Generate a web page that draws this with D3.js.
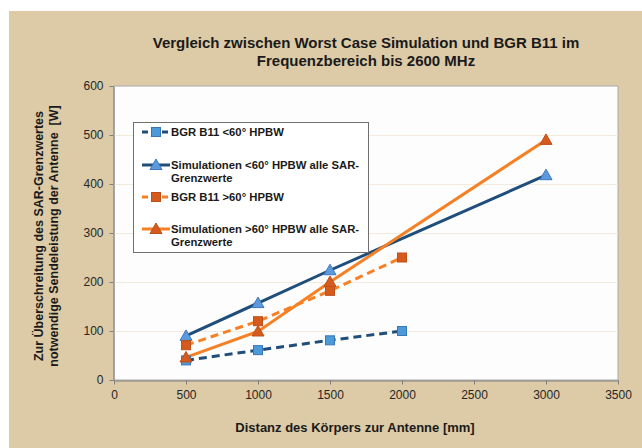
<!DOCTYPE html>
<html><head><meta charset="utf-8">
<script src="https://cdn.jsdelivr.net/npm/d3@7"></script>
<style>body{margin:0;background:#fff}svg{display:block}text{font-family:"Liberation Sans",Arial,sans-serif;white-space:pre}</style>
</head><body><svg id="c" width="642" height="448"></svg>
<script>
const titleLines = ["Vergleich zwischen Worst Case Simulation und BGR B11 im", "Frequenzbereich bis 2600 MHz"];
const xLabel = "Distanz des Körpers zur Antenne [mm]";
const yLabelLines = ["Zur Überschreitung des SAR-Grenzwertes", "notwendige Sendeleistung der Antenne  [W]"];
const xTicks = [0, 500, 1000, 1500, 2000, 2500, 3000, 3500];
const yTicks = [0, 100, 200, 300, 400, 500, 600];
const seriesNames = [["BGR B11 <60° HPBW"], ["Simulationen <60° HPBW alle SAR-", "Grenzwerte"], ["BGR B11 >60° HPBW"], ["Simulationen >60° HPBW alle SAR-", "Grenzwerte"]];
const bgrLowX = [500, 1000, 1500, 2000];
const bgrLowY = [40, 61, 81, 100];
const simLowX = [500, 1000, 1500, 3000];
const simLowY = [90, 157, 224, 418];
const bgrHighX = [500, 1000, 1500, 2000];
const bgrHighY = [71, 120, 182, 250];
const simHighX = [500, 1000, 1500, 3000];
const simHighY = [46, 99, 200, 490];

const series = [
  {name: seriesNames[0], xs: bgrLowX, ys: bgrLowY, line: "#1F4E7A", dash: "8,5", marker: "square", fill: "#4D9AD8", stroke: "#3878B8"},
  {name: seriesNames[1], xs: simLowX, ys: simLowY, line: "#1F4E7A", dash: null, marker: "triangle", fill: "#5B9BDC", stroke: "#3D78BE"},
  {name: seriesNames[2], xs: bgrHighX, ys: bgrHighY, line: "#F58025", dash: "8,5", marker: "square", fill: "#D45A1E", stroke: "#C0501A"},
  {name: seriesNames[3], xs: simHighX, ys: simHighY, line: "#F58025", dash: null, marker: "triangle", fill: "#D45A1E", stroke: "#C0501A"}
];

const svg = d3.select("#c");
svg.append("rect").attr("x", 9).attr("y", 11).attr("width", 633).attr("height", 437).attr("fill", "#DDCBA7");

const L = 114, R = 618, T = 86, B = 380;
const x = d3.scaleLinear().domain([0, 3500]).range([L, R]);
const y = d3.scaleLinear().domain([0, 600]).range([B, T]);

svg.append("rect").attr("x", L).attr("y", T).attr("width", R - L).attr("height", B - T).attr("fill", "#FDFDFD").attr("stroke", "#A8A8A8").attr("stroke-width", 1);

svg.append("g").selectAll("line").data(yTicks.filter(d => d > 0 && d < 600)).join("line")
  .attr("x1", L).attr("x2", R).attr("y1", d => y(d) + 0.5).attr("y2", d => y(d) + 0.5)
  .attr("stroke", "#F2EBDD").attr("stroke-width", 1);

const fmt = d3.format("d");
const xAxis = svg.append("g").attr("transform", `translate(0,${B + 0.5})`)
  .call(d3.axisBottom(x).tickValues(xTicks).tickFormat(fmt).tickSize(4).tickSizeOuter(0).tickPadding(6));
const yAxis = svg.append("g").attr("transform", `translate(${L - 0.5},0)`)
  .call(d3.axisLeft(y).tickValues(yTicks).tickFormat(fmt).tickSize(4).tickSizeOuter(0).tickPadding(6));
[xAxis, yAxis].forEach(g => {
  g.selectAll("path,line").attr("stroke", "#7F7F7F");
  g.selectAll("text").attr("fill", "#262626").style("font-size", "12px").style("font-family", "'Liberation Sans',Arial,sans-serif");
});

function marker(g, type, cx, cy, fill, stroke) {
  if (type === "square") {
    g.append("rect").attr("x", cx - 4.5).attr("y", cy - 4.5).attr("width", 9).attr("height", 9)
      .attr("fill", fill).attr("stroke", stroke).attr("stroke-width", 1);
  } else {
    g.append("path").attr("d", `M${cx},${cy - 6}L${cx + 6},${cy + 4.5}L${cx - 6},${cy + 4.5}Z`)
      .attr("fill", fill).attr("stroke", stroke).attr("stroke-width", 1);
  }
}

const line = d3.line().x(d => x(d[0])).y(d => y(d[1]));
series.forEach(s => {
  const pts = s.xs.map((v, i) => [v, s.ys[i]]);
  svg.append("path").datum(pts).attr("d", line).attr("fill", "none")
    .attr("stroke", s.line).attr("stroke-width", 3).attr("stroke-dasharray", s.dash);
});
series.forEach(s => {
  const g = svg.append("g");
  s.xs.forEach((v, i) => marker(g, s.marker, x(v), y(s.ys[i]), s.fill, s.stroke));
});

// legend
const lg = svg.append("g");
lg.append("rect").attr("x", 133.5).attr("y", 122.5).attr("width", 235).attr("height", 130)
  .attr("fill", "#FFFFFF").attr("stroke", "#707070").attr("stroke-width", 1);
const rowY = [132, 165, 197, 229];
series.forEach((s, i) => {
  const cy = rowY[i];
  lg.append("line").attr("x1", 142).attr("x2", 170).attr("y1", cy).attr("y2", cy)
    .attr("stroke", s.line).attr("stroke-width", 3).attr("stroke-dasharray", s.dash ? "6,4" : null);
  marker(lg, s.marker, 156, cy, s.fill, s.stroke);
  s.name.forEach((t, j) => {
    lg.append("text").attr("x", 171).attr("y", cy + 4 + j * 12.5).text(t)
      .attr("fill", "#1A1A1A").style("font-size", "11.3px").style("font-weight", "bold");
  });
});

// titles
svg.append("g").selectAll("text").data(titleLines).join("text")
  .attr("x", 366).attr("y", (d, i) => 48 + i * 18).attr("text-anchor", "middle")
  .attr("fill", "#1A1A1A").style("font-size", "15px").style("font-weight", "bold").text(d => d);

svg.append("text").attr("x", 355).attr("y", 432).attr("text-anchor", "middle")
  .attr("fill", "#1A1A1A").style("font-size", "13px").style("font-weight", "bold").text(xLabel);

svg.append("g").selectAll("text").data(yLabelLines).join("text")
  .attr("transform", (d, i) => `translate(${43 + i * 15},236) rotate(-90)`)
  .attr("text-anchor", "middle")
  .attr("fill", "#1A1A1A").style("font-size", "12.5px").style("font-weight", "bold").text(d => d);
</script></body></html>
